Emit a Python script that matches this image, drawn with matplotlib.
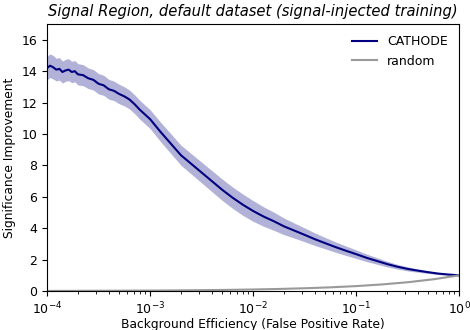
import numpy as np
import matplotlib
matplotlib.use('Agg')
import matplotlib.pyplot as plt

# log10 of background efficiency
cathode_logeps = [-4.0, -3.97, -3.94, -3.91, -3.88, -3.85, -3.82, -3.79, -3.76, -3.73,
                  -3.7, -3.65, -3.6, -3.55, -3.5, -3.45, -3.4, -3.35, -3.3, -3.25,
                  -3.2, -3.15, -3.1, -3.05, -3.0, -2.9, -2.8, -2.7, -2.6, -2.5,
                  -2.4, -2.3, -2.2, -2.1, -2.0, -1.9, -1.8, -1.7, -1.6, -1.5,
                  -1.4, -1.3, -1.2, -1.1, -1.0, -0.9, -0.8, -0.7, -0.6, -0.5,
                  -0.4, -0.3, -0.2, -0.1, 0.0]
cathode_sic = [14.2, 14.35, 14.25, 14.1, 14.15, 13.95, 14.05, 14.1, 13.95, 14.0,
               13.8, 13.75, 13.55, 13.45, 13.2, 13.1, 12.85, 12.75, 12.55, 12.4,
               12.2, 11.9, 11.55, 11.25, 10.95, 10.15, 9.4, 8.65, 8.1, 7.55,
               7.0, 6.45, 5.95, 5.5, 5.1, 4.75, 4.45, 4.12, 3.85, 3.58,
               3.3, 3.05, 2.8, 2.57, 2.35, 2.12, 1.92, 1.72, 1.55, 1.41,
               1.3, 1.2, 1.11, 1.05, 1.0]
cathode_err = [0.75, 0.75, 0.75, 0.72, 0.72, 0.7, 0.7, 0.7, 0.68, 0.68,
               0.68, 0.67, 0.66, 0.65, 0.65, 0.64, 0.63, 0.62, 0.62, 0.61,
               0.6, 0.6, 0.6, 0.6, 0.6, 0.62, 0.63, 0.64, 0.65, 0.66,
               0.67, 0.68, 0.68, 0.68, 0.66, 0.62, 0.58, 0.53, 0.48, 0.44,
               0.4, 0.36, 0.33, 0.3, 0.27, 0.24, 0.21, 0.18, 0.15, 0.13,
               0.1, 0.08, 0.06, 0.04, 0.02]

random_logeps = [-4.0, -3.75, -3.5, -3.25, -3.0, -2.75, -2.5, -2.25, -2.0, -1.75,
                 -1.5, -1.25, -1.0, -0.75, -0.5, -0.25, 0.0]
random_sic = [0.01, 0.013, 0.018, 0.024, 0.032, 0.042, 0.056, 0.075, 0.1, 0.133,
              0.178, 0.237, 0.316, 0.422, 0.562, 0.75, 1.0]

eps_c = 10 ** np.array(cathode_logeps)
sic_c = np.array(cathode_sic)
err_c = np.array(cathode_err)
eps_r = 10 ** np.array(random_logeps)

fig = plt.figure(figsize=(4.7, 3.3), dpi=100)
ax = fig.add_axes([0.1, 0.118, 0.877, 0.809])

ax.plot(eps_c, sic_c, color='navy', lw=1.5, label='CATHODE')
ax.fill_between(eps_c, sic_c - err_c, sic_c + err_c, color='navy', alpha=0.3, lw=0)
ax.plot(eps_r, random_sic, color='#999999', lw=1.5, label='random')

ax.set_xscale('log')
ax.set_xlim(1e-4, 1)
ax.set_ylim(0, 17)
ax.set_yticks(np.arange(0, 17, 2))
ax.tick_params(labelsize=9)
ax.set_xlabel('Background Efficiency (False Positive Rate)', fontsize=8.8, labelpad=0.5)
ax.set_ylabel('Significance Improvement', fontsize=8.8)
ax.set_title('Signal Region, default dataset (signal-injected training)', fontsize=10.6, style='italic')
ax.legend(loc='upper right', frameon=False, fontsize=9)

fig.savefig('out.png', dpi=100)
